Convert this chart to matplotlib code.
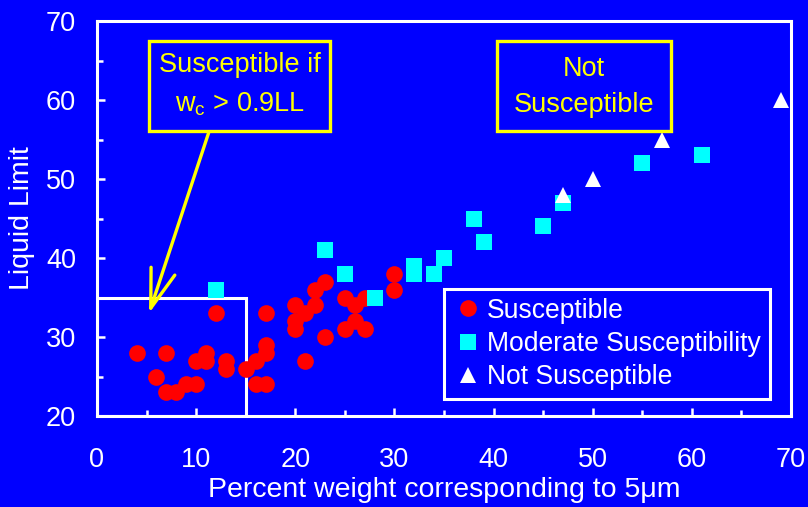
import matplotlib
matplotlib.use("Agg")
import matplotlib.pyplot as plt
from matplotlib.patches import Rectangle
from matplotlib.ticker import MultipleLocator

plt.rcParams['font.family'] = ['Liberation Sans', 'DejaVu Sans']
plt.rcParams['mathtext.fontset'] = 'custom'
plt.rcParams['mathtext.rm'] = 'Liberation Sans'
plt.rcParams['mathtext.it'] = 'Liberation Sans'

# ---- data ----
susc_x = [4, 7, 6, 7, 8, 9, 10, 10, 11, 11, 12, 13, 13, 15, 16, 16, 17, 17, 17, 17,
          20, 20, 20, 21, 21, 22, 22, 23, 23, 25, 25, 26, 26, 27, 27, 30, 30]
susc_y = [28, 28, 25, 23, 23, 24, 24, 27, 28, 27, 33, 27, 26, 26, 27, 24, 33, 29, 28, 24,
          34, 32, 31, 33, 27, 34, 36, 37, 30, 35, 31, 34, 32, 35, 31, 38, 36]

mod_x = [12, 23, 25, 28, 32, 32, 34, 35, 38, 39, 45, 47, 55, 61]
mod_y = [36, 41, 38, 35, 39, 38, 38, 40, 45, 42, 44, 47, 52, 53]

not_x = [47, 50, 57, 69]
not_y = [48, 50, 55, 60]

labels = ["Susceptible", "Moderate Susceptibility", "Not Susceptible"]
box1_lines = ["Susceptible if", r"w$_{\mathrm{c}}$ > 0.9LL"]
box2_lines = ["Not", "Susceptible"]

BLUE = '#0000FF'
FS = 19.5

fig = plt.figure(figsize=(8.08, 5.07), dpi=100, facecolor=BLUE)
ax = fig.add_axes([97/808, 1-416/507, 694/808, 395/507], facecolor=BLUE)

ax.plot(susc_x, susc_y, 'o', color='#FF0000', markersize=12, markeredgewidth=0,
        label=labels[0], zorder=3, clip_on=False)
ax.plot(mod_x, mod_y, 's', color='#00FFFF', markersize=11.5, markeredgewidth=0,
        label=labels[1], zorder=4, clip_on=False)
ax.plot(not_x, not_y, '^', color='white', markersize=12, markeredgewidth=0,
        label=labels[2], zorder=5, clip_on=False)

ax.set_xlim(0, 70)
ax.set_ylim(20, 70)
ax.xaxis.set_major_locator(MultipleLocator(10))
ax.xaxis.set_minor_locator(MultipleLocator(5))
ax.yaxis.set_major_locator(MultipleLocator(10))
ax.yaxis.set_minor_locator(MultipleLocator(5))

for s in ax.spines.values():
    s.set_color('white')
    s.set_linewidth(2.2)

ax.tick_params(axis='both', which='both', direction='in', colors='white',
               width=1.8, labelsize=FS)
ax.tick_params(axis='both', which='major', length=6)
ax.tick_params(axis='both', which='minor', length=4)
ax.tick_params(axis='x', which='major', pad=22)
ax.tick_params(axis='y', which='major', pad=15)
ax.tick_params(top=False, right=False, which='both')

ax.set_xlabel("Percent weight corresponding to 5μm", color='white', fontsize=20.5, labelpad=3)
ax.set_ylabel("Liquid Limit", color='white', fontsize=20.5, labelpad=8)

# white region box
ax.add_patch(Rectangle((0, 20), 15, 15, fill=False, edgecolor='white', linewidth=2.2, zorder=2))

# yellow boxes
ax.add_patch(Rectangle((5.25, 56.1), 18.25, 11.4, fill=False, edgecolor='#FFFF00',
                       linewidth=2.4, zorder=6, clip_on=False))
ax.add_patch(Rectangle((40.35, 56.1), 17.5, 11.4, fill=False, edgecolor='#FFFF00',
                       linewidth=2.4, zorder=6, clip_on=False))

ax.text(14.4, 63.6, box1_lines[0], color='#FFFF00', fontsize=FS, ha='center', va='baseline')
ax.text(14.4, 58.5, box1_lines[1], color='#FFFF00', fontsize=FS, ha='center', va='baseline')
ax.text(49.1, 63.0, box2_lines[0], color='#FFFF00', fontsize=FS, ha='center', va='baseline')
ax.text(49.1, 58.5, box2_lines[1], color='#FFFF00', fontsize=FS, ha='center', va='baseline')

ax.annotate('', xy=(5.25, 33.0), xytext=(11.3, 56.0),
            arrowprops=dict(arrowstyle='->, head_length=1.4, head_width=0.45',
                            color='#FFFF00', lw=2.4, shrinkA=0, shrinkB=0,
                            mutation_scale=20), zorder=6)

leg = ax.legend(loc='upper left', bbox_to_anchor=(0.5, 0.3215), borderaxespad=0,
                frameon=True, fancybox=False, facecolor=BLUE, edgecolor='white',
                fontsize=19.1, handlelength=1.15, handletextpad=0.15, borderpad=0.33,
                labelspacing=0.27, framealpha=1)
leg.get_frame().set_linewidth(2.2)
for t in leg.get_texts():
    t.set_color('white')

fig.savefig('out.png', dpi=100, facecolor=BLUE)
